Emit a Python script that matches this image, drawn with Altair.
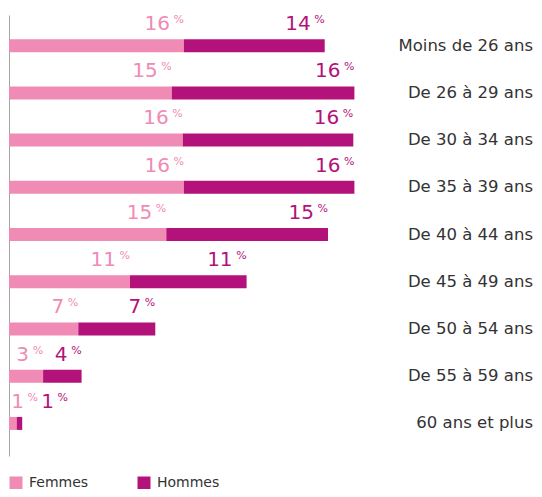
import altair as alt
import pandas as pd

categories = ["Moins de 26 ans", "De 26 à 29 ans", "De 30 à 34 ans", "De 35 à 39 ans",
              "De 40 à 44 ans", "De 45 à 49 ans", "De 50 à 54 ans", "De 55 à 59 ans",
              "60 ans et plus"]
femmes = [15.9, 14.8, 15.8, 15.9, 14.3, 11.0, 6.3, 3.1, 0.7]
hommes = [12.8, 16.6, 15.5, 15.5, 14.7, 10.6, 7.0, 3.5, 0.5]
femmes_labels = [16, 15, 16, 16, 15, 11, 7, 3, 1]
hommes_labels = [14, 16, 16, 16, 15, 11, 7, 4, 1]
series = ["Femmes", "Hommes"]
colors = ["#EF8BB4", "#B3127A"]

rows = []
for i, c in enumerate(categories):
    rows.append({"cat": c, "idx": i, "sex": "Femmes", "ord": 0, "value": femmes[i], "label": str(femmes_labels[i])})
    rows.append({"cat": c, "idx": i, "sex": "Hommes", "ord": 1, "value": hommes[i], "label": str(hommes_labels[i])})
df = pd.DataFrame(rows)

FONT = "DejaVu Sans"
xs = alt.Scale(domain=[0, 50], range=[0, 550])
ys = alt.Scale(domain=[-0.65, 8.69], range=[7, 448], padding=0, zero=False, nice=False)
cs = alt.Scale(domain=series, range=colors)

base = alt.Chart(df).transform_stack(
    stack="value", groupby=["idx"], as_=["v0", "v1"], sort=[alt.SortField("ord")]
).transform_calculate(
    # labels of very short bars are pushed right so they stay readable
    lx="max(datum.v1, datum.ord == 0 ? 2.64 : 5.36)"
)

yax = alt.Y("idx:Q", scale=ys, axis=alt.Axis(
    title=None, labels=False, ticks=False, grid=False, domain=True,
    domainColor="#A9A39E", domainWidth=1))

bars = base.mark_bar(orient="horizontal", size=13).encode(
    x=alt.X("v0:Q", scale=xs, axis=None),
    x2="v1:Q",
    y=yax,
    color=alt.Color("sex:N", scale=cs, legend=alt.Legend(
        title=None, orient="none", legendX=0, legendY=468, direction="horizontal",
        symbolType="square", symbolSize=169, symbolStrokeWidth=0,
        labelFont=FONT, labelFontSize=14, labelColor="#333333",
        labelOffset=6, columnPadding=48)),
)

nums = base.mark_text(align="right", baseline="alphabetic", dx=-14, dy=-15.7,
                      fontSize=20, font=FONT).encode(
    x=alt.X("lx:Q", scale=xs),
    y=alt.Y("idx:Q", scale=ys),
    text="label:N",
    color=alt.Color("sex:N", scale=cs, legend=None),
)

pct = base.mark_text(align="right", baseline="alphabetic", dx=0, dy=-22.7,
                     fontSize=11, font=FONT).encode(
    x=alt.X("lx:Q", scale=xs),
    y=alt.Y("idx:Q", scale=ys),
    text=alt.value("%"),
    color=alt.Color("sex:N", scale=cs, legend=None),
)

cats = alt.Chart(df).transform_filter(alt.datum.ord == 0).mark_text(
    align="right", baseline="middle", fontSize=16.5, font=FONT, color="#333333").encode(
    x=alt.value(524),
    y=alt.Y("idx:Q", scale=ys),
    text="cat:N",
)

chart = alt.layer(bars, nums, pct, cats).properties(
    width=525, height=481,
    autosize=alt.AutoSizeParams(type="none"),
    padding={"left": 1, "top": 0, "right": 0, "bottom": 0},
).configure_view(stroke=None)

chart.save("out.html", embed_options={"renderer": "svg", "actions": False})
